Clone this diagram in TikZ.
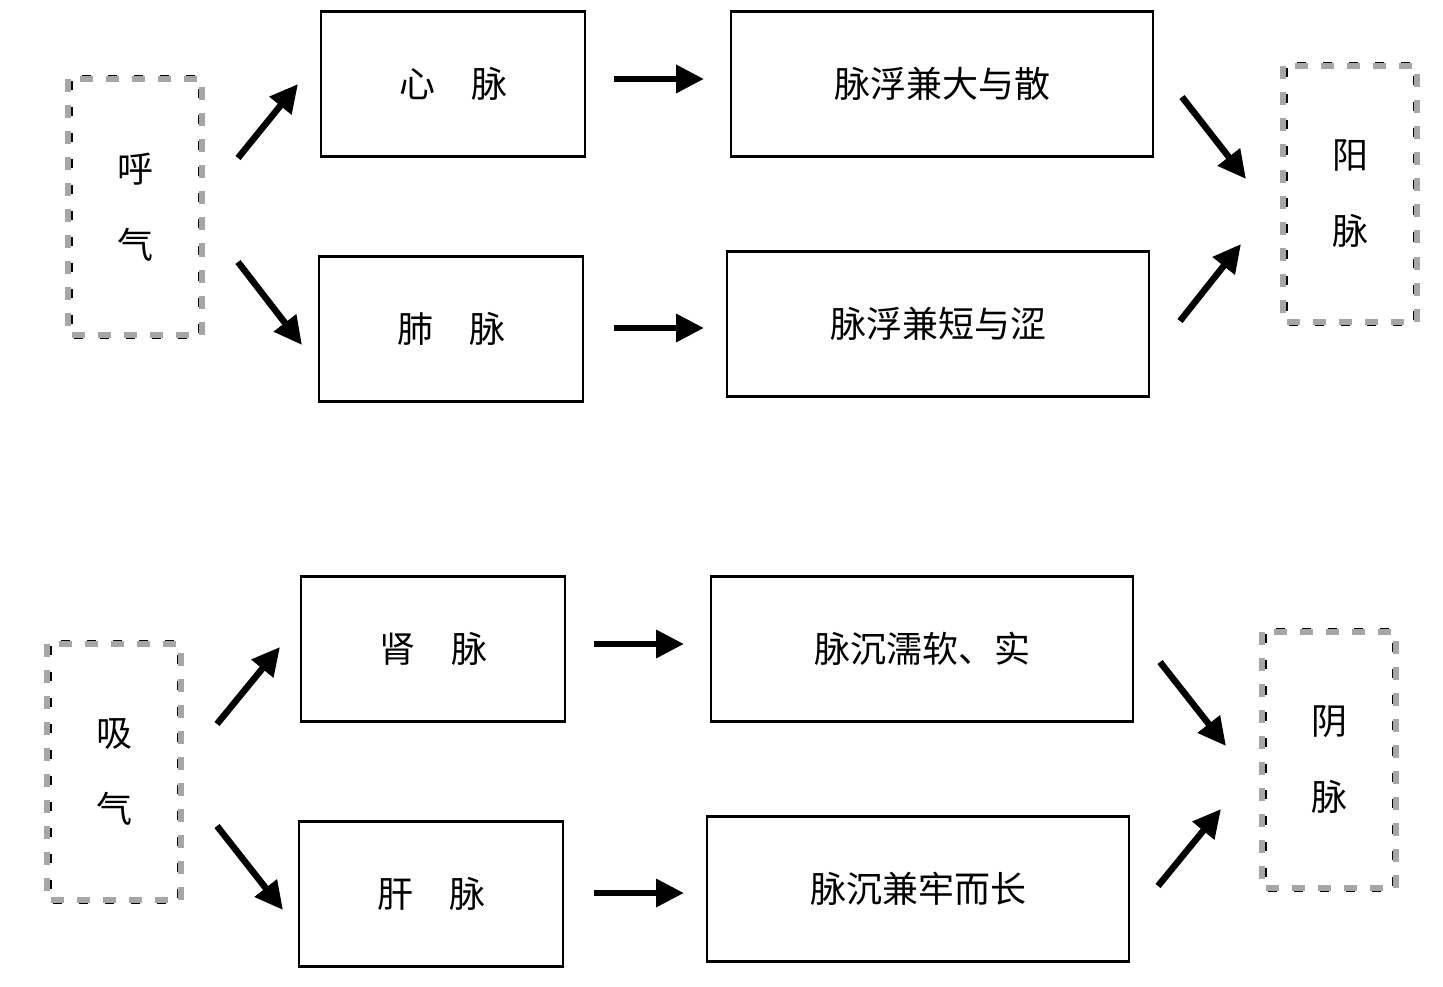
\documentclass[tikz,border=0pt]{standalone}
\usepackage{fontspec}
\setmainfont{Noto Sans CJK SC}
\usetikzlibrary{arrows.meta}
\begin{document}
\begin{tikzpicture}[x=1pt,y=-1pt,
  box/.style={draw=black,line width=2.4pt,minimum width=#1,minimum height=145pt,inner sep=0pt,font=\fontsize{36}{42}\selectfont},
  box/.default=264pt,
  deco/.style={minimum width=134pt,minimum height=255pt,inner sep=0pt,align=center,font=\fontsize{36}{76}\selectfont},
  flow/.style={line width=6.5pt,-{Triangle[length=28pt,width=27pt]}}]
\useasboundingbox (0,0) rectangle (1443,987);
\newcommand{\decobox}[1]{%
  \draw[gray!70,line width=6pt,dash pattern=on 13pt off 13pt] (#1.north west) rectangle (#1.south east);
  \draw[black,line width=1.4pt,dash pattern=on 9pt off 17pt,dash phase=20pt] ([xshift=4pt,yshift=4pt]#1.north west) rectangle ([xshift=-4pt,yshift=-4pt]#1.south east);}
% top
\node[deco] (hu) at (135,207) {呼\\气};
\node[box] (xin) at (453,84) {心\hspace{1em}脉};
\node[box] (fei) at (451,329) {肺\hspace{1em}脉};
\node[box=422pt] (da) at (942,84) {脉浮兼大与散};
\node[box=422pt] (duan) at (938,324) {脉浮兼短与涩};
\node[deco] (yang) at (1350,194) {阳\\脉};
\decobox{hu}\decobox{yang}
% bottom
\node[deco] (xi) at (114,772) {吸\\气};
\node[box] (shen) at (433,649) {肾\hspace{1em}脉};
\node[box] (gan) at (431,894) {肝\hspace{1em}脉};
\node[box=422pt] (chen) at (922,649) {脉沉濡软、实};
\node[box=422pt] (lao) at (918,889) {脉沉兼牢而长};
\node[deco] (yin) at (1329,760) {阴\\脉};
\decobox{xi}\decobox{yin}
% arrow end points
\coordinate (a1) at (238,158); \coordinate (b1) at (298,84);
\coordinate (a2) at (238,262); \coordinate (b2) at (302,345);
\coordinate (a3) at (614,79);  \coordinate (b3) at (704,79);
\coordinate (a4) at (614,328); \coordinate (b4) at (704,328);
\coordinate (a5) at (1182,97); \coordinate (b5) at (1246,179);
\coordinate (a6) at (1180,321);\coordinate (b6) at (1241,244);
\coordinate (c1) at (217,724); \coordinate (d1) at (280,647);
\coordinate (c2) at (217,826); \coordinate (d2) at (283,910);
\coordinate (c3) at (594,644); \coordinate (d3) at (684,644);
\coordinate (c4) at (594,893); \coordinate (d4) at (684,893);
\coordinate (c5) at (1160,662);\coordinate (d5) at (1226,746);
\coordinate (c6) at (1158,886);\coordinate (d6) at (1221,809);
\foreach \s/\e in {a1/b1,a2/b2,a3/b3,a4/b4,a5/b5,a6/b6,c1/d1,c2/d2,c3/d3,c4/d4,c5/d5,c6/d6}
  \draw[flow] (\s) -- (\e);
\end{tikzpicture}
\end{document}
